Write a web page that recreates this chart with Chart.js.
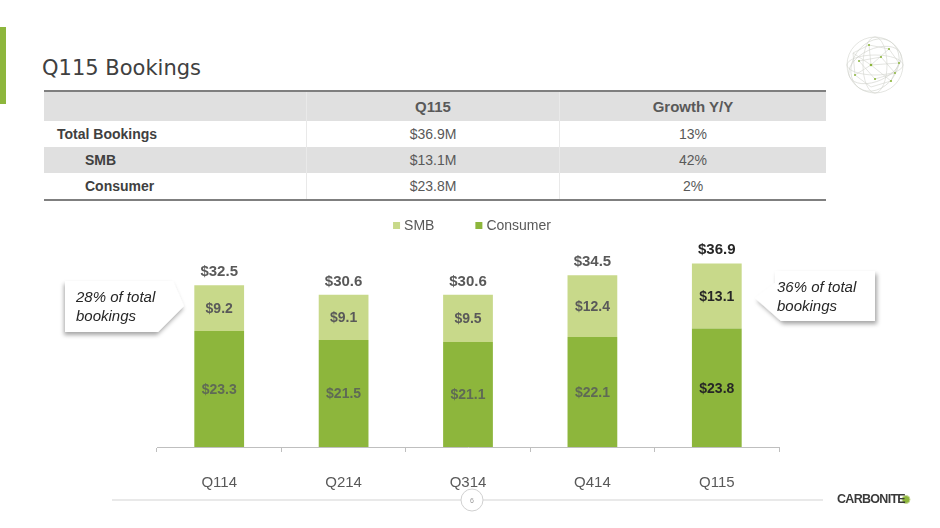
<!DOCTYPE html>
<html>
<head>
<meta charset="utf-8">
<title>Q115 Bookings</title>
<script src="https://cdn.jsdelivr.net/npm/chart.js@4.4.0/dist/chart.umd.min.js"></script>
<style>
  html, body { margin: 0; padding: 0; background: #fff; }
  body { width: 940px; height: 528px; position: relative; overflow: hidden; font-family: "Liberation Sans", Arial, sans-serif; }
  #accent { position: absolute; left: 0; top: 27px; width: 6px; height: 77px; background: #8db63c; }
  #title { position: absolute; left: 42px; top: 55px; font-family: "DejaVu Sans", Verdana, sans-serif; font-size: 21px; line-height: 26px; color: #404040; }
  #kpi { position: absolute; left: 44px; top: 90px; width: 782px; border-collapse: collapse; border-top: 2px solid #7f7f7f; border-bottom: 2px solid #7f7f7f; }
  #kpi td, #kpi th { padding: 0; font-size: 14px; color: #595959; }
  #kpi th { height: 29px; font-size: 15px; font-weight: bold; background: #e0e0e0; text-align: center; }
  #kpi td { height: 26px; text-align: center; }
  #kpi td.lbl { text-align: left; font-weight: bold; color: #404040; padding-left: 13px; }
  #kpi td.sub { padding-left: 41px; }
  #kpi tr.shade td { background: #e0e0e0; }
  #kpi .c2 { border-left: 1px solid #e9e9e9; }
  #chartBox { position: absolute; left: 0; top: 200px; width: 940px; height: 300px; }
  .callout { position: absolute; overflow: visible; }
  .callout .txt { font-style: italic; font-size: 15px; line-height: 19px; color: #262626; }
  #footer { position: absolute; left: 0; top: 0; }
  #logo { position: absolute; left: 837px; top: 492px; font-size: 12.5px; font-weight: bold; color: #3a3a3a; letter-spacing: -0.7px; font-family: "Liberation Sans Narrow", "Liberation Sans", Arial, sans-serif; }
</style>
</head>
<body>
<div id="accent"></div>
<div id="title">Q115 Bookings</div>

<table id="kpi">
  <tr><th style="width:262px"></th><th class="c2" style="width:252px">Q115</th><th class="c2">Growth Y/Y</th></tr>
  <tr><td class="lbl">Total Bookings</td><td class="c2">$36.9M</td><td class="c2">13%</td></tr>
  <tr class="shade"><td class="lbl sub">SMB</td><td class="c2">$13.1M</td><td class="c2">42%</td></tr>
  <tr><td class="lbl sub">Consumer</td><td class="c2">$23.8M</td><td class="c2">2%</td></tr>
</table>

<!-- globe -->
<svg style="position:absolute;left:845px;top:35px" width="60" height="60" viewBox="0 0 60 60">
  <g fill="none" stroke="#d2d4cd" stroke-width="0.6">
    <circle cx="30" cy="30" r="28"/>
    <ellipse cx="30" cy="30" rx="12" ry="28"/>
    <ellipse cx="30" cy="30" rx="28" ry="10"/>
    <ellipse cx="30" cy="30" rx="22" ry="28" transform="rotate(35 30 30)"/>
    <ellipse cx="30" cy="30" rx="28" ry="16" transform="rotate(-25 30 30)"/>
    <path d="M8 18 L24 10 L44 14 L54 28 L46 46 L26 52 L10 40 Z M24 10 L26 30 L44 14 M26 30 L54 28 M26 30 L46 46 M26 30 L10 40 M8 18 L26 30 M14 26 L36 22 L50 38 L30 44 Z"/>
  </g>
  <g fill="#8db63c">
    <circle cx="24" cy="10" r="1.1"/><circle cx="44" cy="14" r="1.1"/><circle cx="26" cy="30" r="1.3"/>
    <circle cx="54" cy="28" r="1"/><circle cx="46" cy="46" r="1.1"/><circle cx="10" cy="40" r="1"/>
    <circle cx="36" cy="22" r="1.1"/><circle cx="30" cy="44" r="1.1"/><circle cx="14" cy="26" r="1"/>
    <circle cx="50" cy="38" r="1"/>
  </g>
</svg>

<div id="chartBox"><canvas id="bookingsChart" width="940" height="300"></canvas></div>

<!-- left callout -->
<svg class="callout" style="left:55px;top:275px" width="140" height="70">
  <defs><filter id="sh" x="-20%" y="-20%" width="140%" height="150%"><feDropShadow dx="-1" dy="3" stdDeviation="2" flood-color="#000" flood-opacity="0.35"/></filter></defs>
  <polygon points="10,6 118,6 129,31 103,57 10,57" fill="#fff" filter="url(#sh)"/>
</svg>
<div class="callout" style="left:76px;top:287px"><div class="txt">28% of total<br>bookings</div></div>

<!-- right callout -->
<svg class="callout" style="left:745px;top:265px" width="145" height="70">
  <defs><filter id="sh2" x="-20%" y="-20%" width="140%" height="150%"><feDropShadow dx="2" dy="3" stdDeviation="2" flood-color="#000" flood-opacity="0.35"/></filter></defs>
  <polygon points="30,6 130,6 130,56 36,56 10,33 30,18" fill="#fff" filter="url(#sh2)"/>
</svg>
<div class="callout" style="left:777px;top:277px"><div class="txt">36% of total<br>bookings</div></div>

<!-- footer -->
<svg id="footer" width="940" height="528">
  <line x1="112" y1="500" x2="823" y2="500" stroke="#d3d3d3" stroke-width="1"/>
  <circle cx="472" cy="500" r="11" fill="#fff" stroke="#d0d0d0" stroke-width="1"/>
  <text x="472" y="503" text-anchor="middle" font-size="7" fill="#999" font-family="Liberation Sans, Arial">6</text>
  <circle cx="906" cy="499.5" r="4" fill="#8db63c" stroke="#c9d99a" stroke-width="1"/>
</svg>
<div id="logo">CARBONITE</div>

<script>
const quarters = ["Q114", "Q214", "Q314", "Q414", "Q115"];
const consumer = [23.3, 21.5, 21.1, 22.1, 23.8];
const smb = [9.2, 9.1, 9.5, 12.4, 13.1];
const totals = [32.5, 30.6, 30.6, 34.5, 36.9];

const greenDark = "#8db63c";
const greenLight = "#c8d98a";
const labelFont = "'Liberation Sans', Arial, sans-serif";

// legend drawn by hand so spacing matches the slide (SMB first, then Consumer)
const slideLegend = {
  id: "slideLegend",
  afterDraw(chart) {
    const ctx = chart.ctx;
    const items = chart.data.datasets.slice().reverse();
    ctx.save();
    ctx.font = "14px " + labelFont;
    ctx.textBaseline = "middle";
    const box = 7, gap = 4, spacing = 41;
    let total = 0;
    items.forEach((ds, i) => {
      total += box + gap + ctx.measureText(ds.label).width + (i ? spacing : 0);
    });
    let x = (chart.chartArea.left + chart.chartArea.right) / 2 + 4 - total / 2;
    const y = 25.5;
    items.forEach(ds => {
      ctx.fillStyle = ds.backgroundColor;
      ctx.fillRect(x, y - box / 2, box, box);
      x += box + gap;
      ctx.fillStyle = "#595959";
      ctx.fillText(ds.label, x, y + 0.5);
      x += ctx.measureText(ds.label).width + spacing;
    });
    ctx.restore();
  }
};

// values inside each segment plus the total above the stack
const valueLabels = {
  id: "valueLabels",
  afterDatasetsDraw(chart) {
    const ctx = chart.ctx;
    const lastIdx = quarters.length - 1;
    ctx.save();
    ctx.textAlign = "center";
    ctx.textBaseline = "middle";
    ctx.font = "bold 14px " + labelFont;
    chart.data.datasets.forEach((ds, di) => {
      chart.getDatasetMeta(di).data.forEach((bar, i) => {
        ctx.fillStyle = i === lastIdx ? "#262626" : ds.labelColor;
        ctx.fillText("$" + ds.data[i].toFixed(1), bar.x, (bar.y + bar.base) / 2 + 1);
      });
    });
    ctx.font = "bold 15px " + labelFont;
    ctx.textBaseline = "alphabetic";
    chart.getDatasetMeta(chart.data.datasets.length - 1).data.forEach((bar, i) => {
      ctx.fillStyle = i === lastIdx ? "#262626" : "#595959";
      ctx.fillText("$" + totals[i].toFixed(1), bar.x, bar.y - 9);
    });
    ctx.restore();
  }
};

new Chart(document.getElementById("bookingsChart"), {
  type: "bar",
  data: {
    labels: quarters,
    datasets: [
      { label: "Consumer", data: consumer, backgroundColor: greenDark, labelColor: "#5f6a55" },
      { label: "SMB", data: smb, backgroundColor: greenLight, labelColor: "#595959" }
    ]
  },
  options: {
    responsive: false,
    animation: false,
    events: [],
    layout: { padding: { left: 157, right: 161, top: 48, bottom: 0 } },
    datasets: { bar: { categoryPercentage: 1, barPercentage: 0.4 } },
    plugins: {
      legend: { display: false },
      tooltip: { enabled: false }
    },
    scales: {
      x: {
        stacked: true,
        afterFit(scale) { scale.height = 53; },
        border: { display: true, color: "#bfbfbf", width: 1 },
        grid: { display: true, drawOnChartArea: false, drawTicks: true, tickLength: 5, color: "#bfbfbf", offset: true },
        ticks: { color: "#595959", font: { family: labelFont, size: 15 }, padding: 22 }
      },
      y: {
        stacked: true,
        display: false,
        min: 0,
        max: 40
      }
    }
  },
  plugins: [valueLabels, slideLegend]
});
</script>
</body>
</html>
